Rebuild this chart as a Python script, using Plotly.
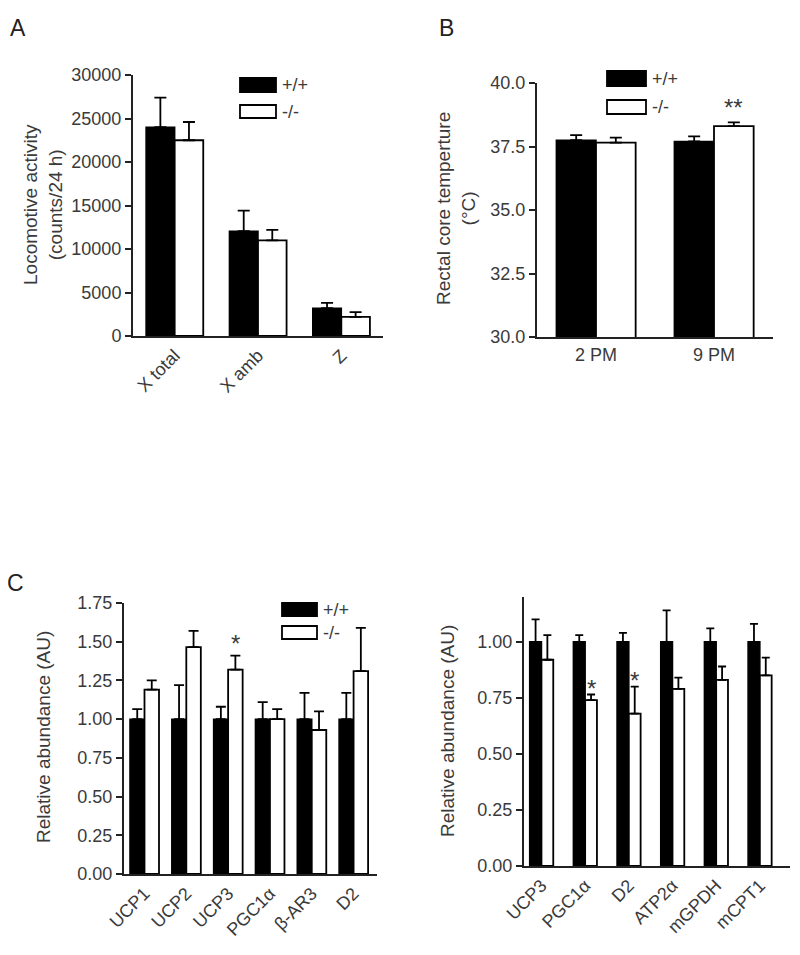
import plotly.graph_objects as go

# ---------------- data ----------------
# Panel A: locomotive activity (counts/24 h)
a_categories = ["X total", "X amb", "Z"]
a_wt = [24000, 12050, 3200]
a_wt_err = [3400, 2350, 600]
a_ko = [22500, 11000, 2200]
a_ko_err = [2100, 1200, 550]
a_sig = ["", "", ""]
a_ticks = [0, 5000, 10000, 15000, 20000, 25000, 30000]

# Panel B: rectal core temperature (°C)
b_categories = ["2 PM", "9 PM"]
b_wt = [37.75, 37.70]
b_wt_err = [0.20, 0.20]
b_ko = [37.65, 38.30]
b_ko_err = [0.20, 0.15]
b_sig = ["", "**"]
b_ticks = [30.0, 32.5, 35.0, 37.5, 40.0]

# Panel C: relative abundance (AU)
c_categories = ["UCP1", "UCP2", "UCP3", "PGC1α", "β-AR3", "D2"]
c_wt = [1.00, 1.00, 1.00, 1.00, 1.00, 1.00]
c_wt_err = [0.065, 0.22, 0.08, 0.11, 0.17, 0.17]
c_ko = [1.19, 1.465, 1.32, 1.00, 0.93, 1.31]
c_ko_err = [0.06, 0.105, 0.09, 0.065, 0.12, 0.28]
c_sig = ["", "", "*", "", "", ""]
c_ticks = [0.00, 0.25, 0.50, 0.75, 1.00, 1.25, 1.50, 1.75]

# Panel D: relative abundance (AU)
d_categories = ["UCP3", "PGC1α", "D2", "ATP2α", "mGPDH", "mCPT1"]
d_wt = [1.00, 1.00, 1.00, 1.00, 1.00, 1.00]
d_wt_err = [0.10, 0.03, 0.04, 0.14, 0.06, 0.08]
d_ko = [0.92, 0.74, 0.68, 0.79, 0.83, 0.85]
d_ko_err = [0.11, 0.025, 0.12, 0.05, 0.06, 0.08]
d_sig = ["", "*", "*", "", "", ""]
d_ticks = [0.00, 0.25, 0.50, 0.75, 1.00]

series_names = ["+/+", "-/-"]

# ---------------- figure ----------------
PAGE_MARGIN = 8            # default body margin of the html page
W, H = 800 - 2 * PAGE_MARGIN, 955 - 2 * PAGE_MARGIN
FONT = "Liberation Sans, Arial, sans-serif"
AX = "#222222"
TXT = "#3a3a3a"
TICK_SIZE = 18
TITLE_SIZE = 19


def px(x):
    """page x pixel -> paper fraction"""
    return (x - PAGE_MARGIN) / W


def py(y):
    """page y pixel -> paper fraction"""
    return 1 - (y - PAGE_MARGIN) / H


fig = go.Figure()

panels = [
    dict(i=1, cats=a_categories, wt=a_wt, wte=a_wt_err, ko=a_ko, koe=a_ko_err, sig=a_sig,
         w=0.343, cap=6, xd=(133, 383), yd=(75, 336), xr=[-0.5, 2.5], yr=[0, 30000],
         ticks=a_ticks, fmt="d", ang=-45, star_px=0),
    dict(i=2, cats=b_categories, wt=b_wt, wte=b_wt_err, ko=b_ko, koe=b_ko_err, sig=b_sig,
         w=0.336, cap=6, xd=(537, 773), yd=(83, 337), xr=[-0.5, 1.5], yr=[30, 40],
         ticks=b_ticks, fmt=".1f", ang=0, star_px=-1),
    dict(i=3, cats=c_categories, wt=c_wt, wte=c_wt_err, ko=c_ko, koe=c_ko_err, sig=c_sig,
         w=0.347, cap=5, xd=(124, 377), yd=(603, 874), xr=[-0.49, 5.56], yr=[0, 1.75],
         ticks=c_ticks, fmt=".2f", ang=-45, star_px=-3),
    dict(i=4, cats=d_categories, wt=d_wt, wte=d_wt_err, ko=d_ko, koe=d_ko_err, sig=d_sig,
         w=0.27, cap=4, xd=(524, 790), yd=(597, 866), xr=[-0.40, 5.69], yr=[0, 1.2],
         ticks=d_ticks, fmt=".2f", ang=-45, star_px=-9),
]

annotations = []
shapes = []

for p in panels:
    i = p["i"]
    xa = "x" if i == 1 else f"x{i}"
    ya = "y" if i == 1 else f"y{i}"
    n = len(p["cats"])
    w = p["w"]
    fig.add_trace(go.Bar(
        x=p["cats"], y=p["wt"], width=w, offset=-w, name=series_names[0],
        marker=dict(color="black", line=dict(color="black", width=1.5)),
        error_y=dict(type="data", array=p["wte"], arrayminus=[0] * n, symmetric=False,
                     color="black", thickness=1.8, width=p["cap"]),
        xaxis=xa, yaxis=ya, showlegend=False))
    fig.add_trace(go.Bar(
        x=p["cats"], y=p["ko"], width=w, offset=0, name=series_names[1],
        marker=dict(color="white", line=dict(color="black", width=1.8)),
        error_y=dict(type="data", array=p["koe"], arrayminus=[0] * n, symmetric=False,
                     color="black", thickness=1.8, width=p["cap"]),
        xaxis=xa, yaxis=ya, showlegend=False))

    xdom = [px(p["xd"][0]), px(p["xd"][1])]
    ydom = [py(p["yd"][1]), py(p["yd"][0])]
    xkey = "xaxis" if i == 1 else f"xaxis{i}"
    ykey = "yaxis" if i == 1 else f"yaxis{i}"
    fig.update_layout(**{
        xkey: dict(domain=xdom, anchor=ya, type="category", range=p["xr"],
                   showline=True, linecolor=AX, linewidth=2, ticks="", automargin=False,
                   tickangle=p["ang"], tickfont=dict(size=TICK_SIZE, color=TXT, family=FONT),
                   showgrid=False, zeroline=False, fixedrange=True),
        ykey: dict(domain=ydom, anchor=xa, range=p["yr"], tickvals=p["ticks"],
                   tickformat=p["fmt"], showline=True, linecolor=AX, linewidth=2,
                   ticks="outside", ticklen=6, tickwidth=2, tickcolor=AX, automargin=False,
                   tickfont=dict(size=TICK_SIZE, color=TXT, family=FONT),
                   showgrid=False, zeroline=False, fixedrange=True),
    })

    # significance stars above the -/- bars
    for k, s in enumerate(p["sig"]):
        if s:
            annotations.append(dict(
                x=k + w / 2, y=p["ko"][k] + p["koe"][k], xref=xa, yref=ya,
                text=s, showarrow=False, yanchor="bottom", yshift=p["star_px"],
                font=dict(size=24, color=TXT, family=FONT)))

# y-axis titles
titles = [
    ("Locomotive activity<br>(counts/24 h)", 43, 205),
    ("Rectal core temperture<br>(°C)", 456, 209),
    ("Relative abundance (AU)", 43, 737),
    ("Relative abundance (AU)", 447, 731),
]
for t, tx, ty in titles:
    annotations.append(dict(text=t, x=px(tx), y=py(ty), xref="paper", yref="paper",
                            showarrow=False, textangle=-90, xanchor="center", yanchor="middle",
                            font=dict(size=TITLE_SIZE, color=TXT, family=FONT)))

# panel letters
for t, tx, ty in [("A", 18, 28), ("B", 446, 28), ("C", 16, 583)]:
    annotations.append(dict(text=t, x=px(tx), y=py(ty), xref="paper", yref="paper",
                            showarrow=False, xanchor="center", yanchor="middle",
                            font=dict(size=23, color="#222", family=FONT)))

# legends (drawn swatches)
legend_boxes = [
    (240, 276, (78, 92), (105, 118)),
    (607, 646, (71, 86), (100, 114)),
    (282, 317, (603, 616), (626, 639)),
]
for x0, x1, by, wy in legend_boxes:
    for (y0, y1), fill, label in [(by, "black", series_names[0]), (wy, "white", series_names[1])]:
        shapes.append(dict(type="rect", xref="paper", yref="paper",
                           x0=px(x0), x1=px(x1), y0=py(y1), y1=py(y0),
                           fillcolor=fill, line=dict(color="black", width=1.8)))
        annotations.append(dict(text=label, x=px(x1 + 4), y=py((y0 + y1) / 2),
                                xref="paper", yref="paper", showarrow=False,
                                xanchor="left", yanchor="middle",
                                font=dict(size=18, color=TXT, family=FONT)))

fig.update_layout(
    template="none",
    width=W, height=H, margin=dict(l=0, r=0, t=0, b=0, pad=0, autoexpand=False),
    paper_bgcolor="white", plot_bgcolor="white",
    barmode="overlay", showlegend=False,
    font=dict(family=FONT, color=TXT),
    annotations=annotations, shapes=shapes,
)

fig.write_html("out.html")
